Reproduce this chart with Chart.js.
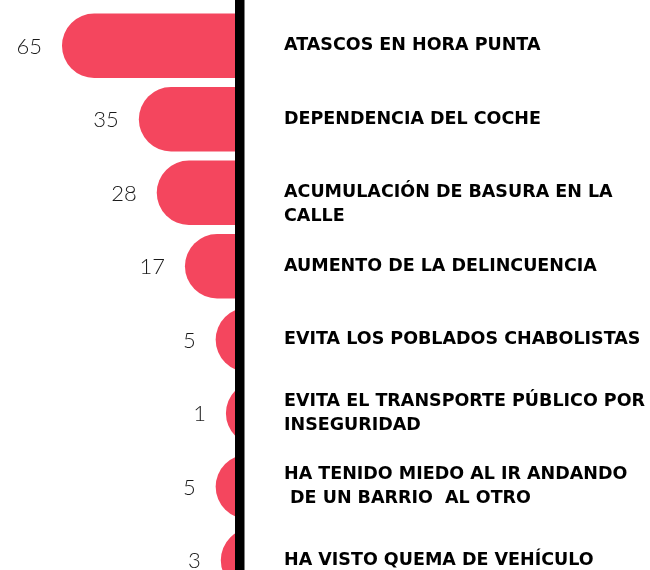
<!DOCTYPE html>
<html><head><meta charset="utf-8">
<script src="https://cdn.jsdelivr.net/npm/chart.js@4"></script>
<style>
html,body{margin:0;padding:0;background:#fff;overflow:hidden}
#wrap{width:650px;height:570px;overflow:hidden;position:relative}
canvas{display:block}
</style></head><body>
<div id="wrap"><canvas id="c" width="650" height="600"></canvas></div>
<script>
const categories = [
  "ATASCOS EN HORA PUNTA",
  "DEPENDENCIA DEL COCHE",
  ["", "ACUMULACIÓN DE BASURA EN LA", "CALLE"],
  "AUMENTO DE LA DELINCUENCIA",
  "EVITA LOS POBLADOS CHABOLISTAS",
  ["EVITA EL TRANSPORTE PÚBLICO POR", "INSEGURIDAD"],
  ["HA TENIDO MIEDO AL IR ANDANDO", " DE UN BARRIO  AL OTRO"],
  "HA VISTO QUEMA DE VEHÍCULO"
];
const values = [65, 35, 28, 17, 5, 1, 5, 3];

const BAR_COLOR = "#F4465E";
const X_MIN = -4.5, X_MAX = 89.2, BAR_BASE = -30;

const valueLabels = {
  id: "valueLabels",
  afterDatasetsDraw(chart) {
    const ctx = chart.ctx;
    const meta = chart.getDatasetMeta(0);
    ctx.save();
    ctx.font = "300 22px Lato";
    ctx.fillStyle = "#1a1a1a";
    ctx.textAlign = "right";
    ctx.textBaseline = "middle";
    meta.data.forEach((bar, i) => {
      ctx.fillText(String(values[i]), bar.x - 20, bar.y + 1);
    });
    ctx.restore();
  }
};

const centerLine = {
  id: "centerLine",
  afterDatasetsDraw(chart) {
    const ctx = chart.ctx;
    const r = chart.chartArea.right;
    ctx.save();
    ctx.fillStyle = "#000";
    ctx.fillRect(r - 5, 0, 9.5, chart.height);
    ctx.restore();
  }
};

new Chart(document.getElementById("c"), {
  type: "bar",
  data: {
    labels: categories,
    datasets: [{
      data: values,
      base: BAR_BASE,
      backgroundColor: BAR_COLOR,
      borderWidth: 0,
      borderSkipped: false,
      borderRadius: 40,
      categoryPercentage: 1,
      barPercentage: 0.875,
      clip: { left: false, top: false, bottom: false, right: 0 }
    }]
  },
  options: {
    indexAxis: "y",
    responsive: false,
    animation: false,
    devicePixelRatio: 1,
    layout: { padding: { top: 9, bottom: 3, left: 0, right: 0 } },
    plugins: { legend: { display: false }, tooltip: { enabled: false } },
    scales: {
      x: {
        type: "linear",
        reverse: true,
        min: X_MIN,
        max: X_MAX,
        display: false
      },
      y: {
        position: "right",
        grid: { display: false, drawTicks: false },
        border: { display: false },
        afterFit(s) { s.width = 410; s.paddingTop = 0; s.paddingBottom = 0; },
        ticks: {
          padding: 44,
          color: "#000",
          autoSkip: false,
          font: { family: "'DejaVu Sans'", weight: "bold", size: 17.5, lineHeight: 24 / 17.5 }
        }
      }
    }
  },
  plugins: [valueLabels, centerLine]
});
</script>
</body></html>
